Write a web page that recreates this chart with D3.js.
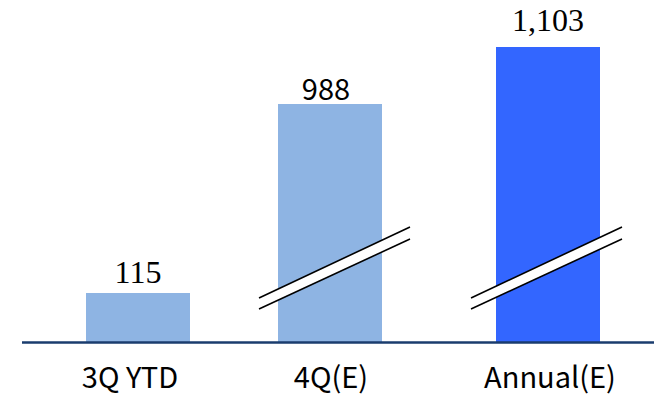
<!DOCTYPE html>
<html>

<head>
    <meta charset="UTF-8">
    <title>Broken axis bars</title>
    <script src="https://cdn.jsdelivr.net/npm/d3@7"></script>
    <style>
        body { margin: 0; background: #fff; }
    </style>
</head>

<body>
    <script>
        const categories = ['3Q YTD', '4Q(E)', 'Annual(E)'];
        const values = [115, 988, 1103];
        const valueLabels = ['115', '988', '1,103'];
        const broken = [false, true, true];

        const width = 654;
        const height = 397;
        const baseY = 342;
        const bw = 104;

        const svg = d3.select('body')
            .append('svg')
            .attr('width', width)
            .attr('height', height);

        // bars are not evenly spaced in the original
        const x = d3.scaleOrdinal()
            .domain(categories)
            .range([86, 278, 496]);

        // broken axis: piecewise linear scale
        const y = d3.scaleLinear()
            .domain([0, 115, 988, 1103])
            .range([baseY, 293, 104, 47]);

        const colors = ['#8eb4e3', '#8eb4e3', '#3366ff'];

        svg.append('g')
            .selectAll('rect')
            .data(values)
            .join('rect')
            .attr('x', (d, i) => x(categories[i]))
            .attr('y', d => y(d))
            .attr('width', bw)
            .attr('height', d => baseY - y(d))
            .attr('fill', (d, i) => colors[i]);

        // break marks
        const brk = svg.append('g');
        values.forEach((d, i) => {
            if (!broken[i]) return;
            const x0 = x(categories[i]) - 19 - (i === 2 ? 6 : 0);
            const x1 = x0 + 151;
            brk.append('path')
                .attr('d', `M${x0},298 L${x1},227 L${x1},239 L${x0},309 Z`)
                .attr('fill', '#fff');
            brk.append('line')
                .attr('x1', x0).attr('y1', 298).attr('x2', x1).attr('y2', 227)
                .attr('stroke', '#000').attr('stroke-width', 1.6);
            brk.append('line')
                .attr('x1', x0).attr('y1', 309).attr('x2', x1).attr('y2', 239)
                .attr('stroke', '#000').attr('stroke-width', 1.6);
        });

        // axis line
        svg.append('line')
            .attr('x1', 22).attr('x2', width)
            .attr('y1', baseY + 0.5).attr('y2', baseY + 0.5)
            .attr('stroke', '#1a3c6e')
            .attr('stroke-width', 2.5);

        // value labels
        const labelGap = [10, 4, 16];
        const labelFont = ['"Liberation Serif", serif', '"Noto Sans CJK KR", sans-serif', '"Liberation Serif", serif'];
        const labelSize = [32, 29, 32];
        svg.append('g')
            .selectAll('text')
            .data(values)
            .join('text')
            .attr('x', (d, i) => x(categories[i]) + bw / 2 - (i === 1 ? 4 : 0))
            .attr('y', (d, i) => y(d) - labelGap[i])
            .attr('text-anchor', 'middle')
            .attr('font-family', (d, i) => labelFont[i])
            .attr('font-size', (d, i) => labelSize[i])
            .attr('fill', '#000')
            .text((d, i) => valueLabels[i]);

        // category labels
        const catShift = [-8, 1, 2];
        svg.append('g')
            .selectAll('text')
            .data(categories)
            .join('text')
            .attr('x', (d, i) => x(d) + bw / 2 + catShift[i])
            .attr('y', 388)
            .attr('text-anchor', 'middle')
            .attr('font-family', '"Noto Sans CJK KR", sans-serif')
            .attr('font-size', 29)
            .attr('fill', '#000')
            .text(d => d);
    </script>
</body>

</html>
